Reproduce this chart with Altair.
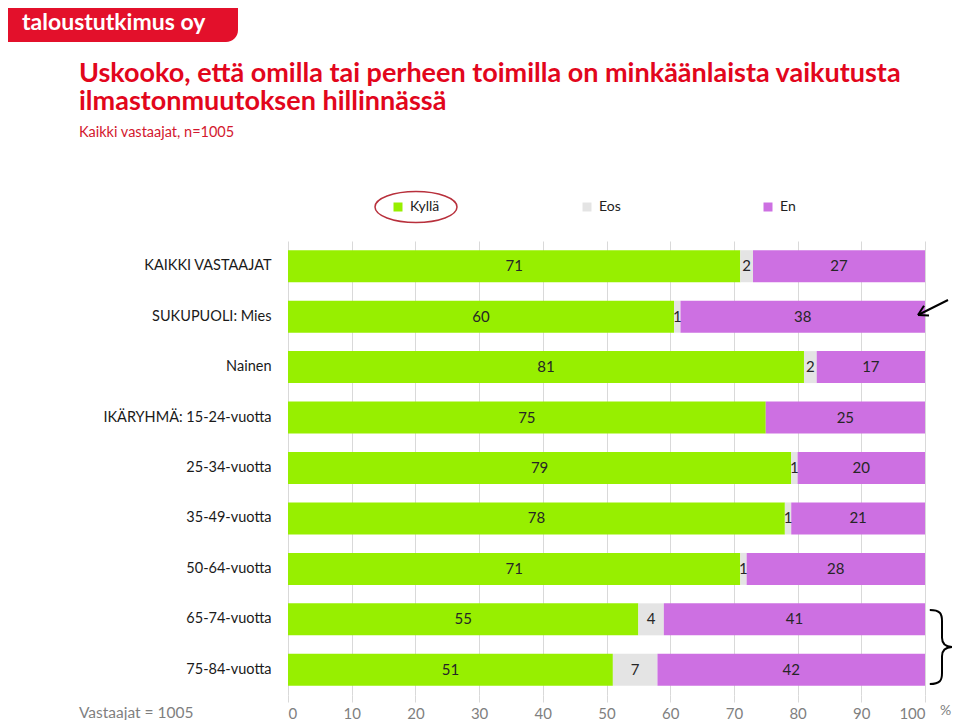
import altair as alt
import pandas as pd

# ---- data ----
rows = ["KAIKKI VASTAAJAT", "SUKUPUOLI: Mies", "Nainen", "IKÄRYHMÄ: 15-24-vuotta",
        "25-34-vuotta", "35-49-vuotta", "50-64-vuotta", "65-74-vuotta", "75-84-vuotta"]
kylla = [71, 60, 81, 75, 79, 78, 71, 55, 51]
eos = [2, 1, 2, 0, 1, 1, 1, 4, 7]
en = [27, 38, 17, 25, 20, 21, 28, 41, 42]
responses = ["Kyllä", "Eos", "En"]
colors = ["#97EF00", "#E4E4E4", "#CD70E2"]
x_ticks = [i / 10 for i in range(11)]

title_lines = ["Uskooko, että omilla tai perheen toimilla on minkäänlaista vaikutusta",
               "ilmastonmuutoksen hillinnässä"]
subtitle = "Kaikki vastaajat, n=1005"
logo_text = "taloustutkimus oy"
note_text = "Vastaajat = 1005"

recs = []
for i, r in enumerate(rows):
    for j, (resp, vals) in enumerate(zip(responses, [kylla, eos, en])):
        recs.append({"category": r, "response": resp, "value": vals[i], "order": j})
df = pd.DataFrame(recs)

FONT = "Lato"
RED = "#E2061C"

base = alt.Chart(df).transform_stack(
    stack="value", groupby=["category"], as_=["v0", "v1"],
    sort=[alt.SortField("order", order="ascending")], offset="normalize"
).transform_calculate(mid="(datum.v0 + datum.v1) / 2")

yenc = alt.Y("category:N", sort=rows,
             scale=alt.Scale(paddingInner=0.366, paddingOuter=0.183),
             axis=alt.Axis(title=None, ticks=False, domain=False, labelFontSize=14.5,
                           labelFont=FONT, labelColor="#1a1a1a", labelPadding=17,
                           labelLimit=300))

bars = base.mark_bar().encode(
    y=yenc,
    x=alt.X("v0:Q", scale=alt.Scale(domain=[0, 1], nice=False),
            axis=alt.Axis(values=x_ticks, labelExpr="round(datum.value*100)", grid=True,
                          gridColor="#D9D9D9", domain=False, tickColor="#D9D9D9",
                          tickSize=7, labelColor="#7F7F7F", labelFontSize=15,
                          labelFont=FONT, labelBaseline="alphabetic", labelPadding=16,
                          title=None)),
    x2="v1:Q",
    color=alt.Color("response:N", scale=alt.Scale(domain=responses, range=colors),
                    legend=alt.Legend(orient="none", legendX=103, legendY=-41,
                                      direction="horizontal", columns=3,
                                      columnPadding=140, title=None,
                                      symbolType="square", symbolSize=81,
                                      symbolStrokeWidth=0, labelFontSize=14,
                                      labelFont=FONT, labelColor="#222222",
                                      labelOffset=5, padding=0)),
    order=alt.Order("order:Q"),
)

labels = base.transform_filter("datum.value > 0").mark_text(
    font=FONT, fontSize=15, color="#262626"
).encode(y=alt.Y("category:N", sort=rows), x=alt.X("mid:Q"), text="value:Q")


def txt(t, x, y, **kw):
    return alt.Chart(pd.DataFrame({"t": [t]})).mark_text(
        align="left", baseline="alphabetic", font=FONT, **kw
    ).encode(text="t:N", x=alt.value(x), y=alt.value(y))


one = pd.DataFrame({"a": [0]})

logo_box = alt.Chart(one).mark_rect(color="#E3102B", cornerRadiusBottomRight=12).encode(
    x=alt.value(-280), x2=alt.value(-50), y=alt.value(-233), y2=alt.value(-199))
logo = txt(logo_text, -266, -211, fontSize=23, fontWeight="bold", color="white")
title = txt("\n".join(title_lines), -209, -159, fontSize=27, fontWeight="bold",
            color=RED, lineBreak="\n", lineHeight=28)
sub = txt(subtitle, -209, -104, fontSize=14.5, color="#D3182E")
note = txt(note_text, -209, 477, fontSize=15.5, color="#7F7F7F")
pct = txt("%", 652, 474, fontSize=14, color="#7F7F7F")

ellipse_path = ("M -1 0 C -1 -0.209 -0.552 -0.378 0 -0.378 C 0.552 -0.378 1 -0.209 1 0 "
                "C 1 0.209 0.552 0.378 0 0.378 C -0.552 0.378 -1 0.209 -1 0 Z")
ellipse = alt.Chart(one).mark_point(shape=ellipse_path, size=82 * 82, filled=False,
                                    stroke="#B8303C", strokeWidth=1.5, opacity=1).encode(
    x=alt.value(128), y=alt.value(-34))

brace_path = ("M -0.33 -1 C -0.05 -1 0 -0.9 0 -0.7 L 0 -0.25 C 0 -0.08 0.1 0 0.3 0 "
              "C 0.1 0 0 0.08 0 0.25 L 0 0.7 C 0 0.9 -0.05 1 -0.33 1")
brace = alt.Chart(one).mark_point(shape=brace_path, size=74 * 74, filled=False,
                                  stroke="black", strokeWidth=2, opacity=1).encode(
    x=alt.value(654), y=alt.value(406))


def seg(x1, y1, x2, y2):
    return alt.Chart(one).mark_rule(color="black", strokeWidth=2).encode(
        x=alt.value(x1), y=alt.value(y1), x2=alt.value(x2), y2=alt.value(y2))


arrow = [seg(660, 59, 630, 74), seg(630, 74, 641, 74.6), seg(630, 74, 636, 64.8)]

chart = alt.layer(
    bars, labels, logo_box, logo, title, sub, note, pct, ellipse, brace, *arrow
).properties(
    width=637, height=454,
    padding={"left": 280, "top": 233, "right": 27, "bottom": 25},
    autosize=alt.AutoSizeParams(type="none"),
).configure_view(stroke=None)

chart.save("out.html", embed_options={"renderer": "svg", "actions": False})
